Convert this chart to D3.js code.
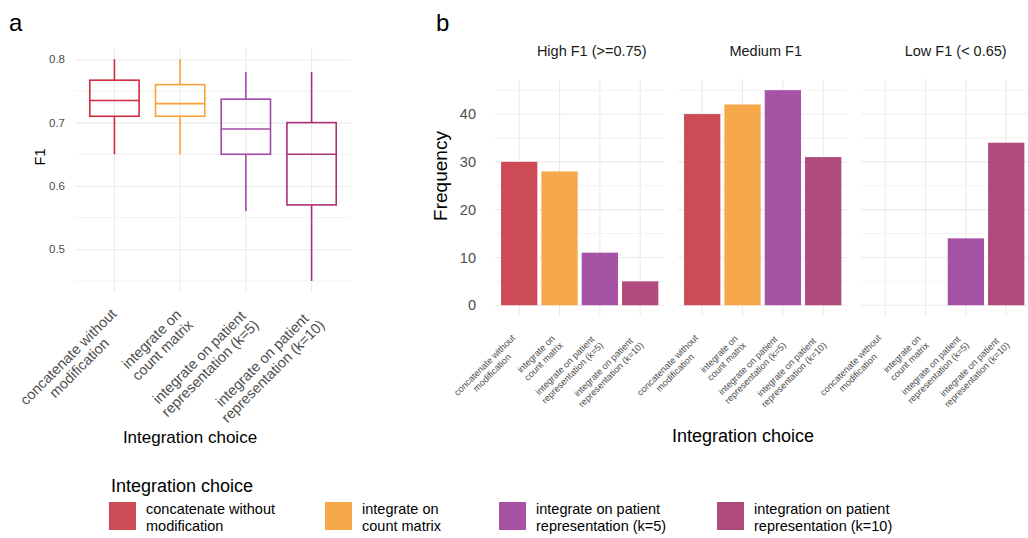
<!DOCTYPE html>
<html>
<head>
<meta charset="utf-8">
<script src="https://cdn.jsdelivr.net/npm/d3@7"></script>
<style>
  body { margin: 0; background: #fff; }
  svg { display: block; font-family: "Liberation Sans", Arial, sans-serif; }
</style>
</head>
<body>
<div class="chart"></div>
<script>
// categories (axis labels use "integrate", legend uses the original wording)
var categories = [
  "concatenate without\nmodification",
  "integrate on\ncount matrix",
  "integrate on patient\nrepresentation (k=5)",
  "integrate on patient\nrepresentation (k=10)"
];
var legendLabels = [
  "concatenate without\nmodification",
  "integrate on\ncount matrix",
  "integrate on patient\nrepresentation (k=5)",
  "integration on patient\nrepresentation (k=10)"
];

// panel a: boxplot stats of F1
var whiskerLow = [0.65, 0.65, 0.56, 0.45];
var q1 = [0.71, 0.71, 0.65, 0.57];
var medians = [0.735, 0.73, 0.69, 0.65];
var q3 = [0.767, 0.76, 0.737, 0.70];
var whiskerHigh = [0.80, 0.80, 0.78, 0.78];
var f1Ticks = [0.5, 0.6, 0.7, 0.8];
var f1Minor = [0.45, 0.55, 0.65, 0.75];

// panel b: counts per F1 group
var facets = ["High F1 (>=0.75)", "Medium F1", "Low F1 (< 0.65)"];
var highCounts = [30, 28, 11, 5];
var mediumCounts = [40, 42, 45, 31];
var lowCounts = [0, 0, 14, 34];
var freqTicks = [0, 10, 20, 30, 40];
var freqMinor = [5, 15, 25, 35, 45];

var boxColors = ["#D22B3D", "#FFA034", "#A24AAB", "#A8317A"];
var barColors = ["#CD4B57", "#F7A84B", "#A653A5", "#B04B7D"];

var svg = d3.select(".chart").append("svg")
  .attr("width", 1028)
  .attr("height", 538);

var grid = "#EBEBEB";
var tickCol = "#4D4D4D";

// rotated two-line tick labels, lines centred within the block
function rotatedLabel(g, x, y, label, fs, lh, shiftU, baseV) {
  var lines = label.split("\n");
  var lg = g.append("g").attr("transform", `translate(${x},${y}) rotate(-45)`);
  var texts = lines.map(function(l, i) {
    return lg.append("text")
      .attr("y", baseV + i * lh)
      .attr("text-anchor", "middle")
      .style("font-size", fs + "px")
      .attr("fill", tickCol)
      .text(l);
  });
  var w = d3.max(texts, t => t.node().getComputedTextLength());
  texts.forEach(t => t.attr("x", shiftU - w / 2));
}

// ---------------- panel a ----------------
var a = { left: 75, right: 351, top: 48.2, bottom: 292 };

var xA = d3.scaleLinear().domain([-0.6, 3.6]).range([a.left, a.right]);
var yA = d3.scaleLinear().domain([0.4325, 0.8175]).range([a.bottom, a.top]);

var gA = svg.append("g");

gA.selectAll(".minorA").data(f1Minor).enter().append("line")
  .attr("x1", a.left).attr("x2", a.right)
  .attr("y1", d => yA(d)).attr("y2", d => yA(d))
  .attr("stroke", grid).attr("stroke-width", 0.6);

gA.append("g")
  .attr("transform", `translate(${a.left},0)`)
  .call(d3.axisLeft(yA).tickValues(f1Ticks).tickSize(-(a.right - a.left)).tickFormat(d3.format(".1f")))
  .call(g => g.select(".domain").remove())
  .call(g => g.selectAll(".tick line").attr("stroke", grid).attr("stroke-width", 1.1))
  .call(g => g.selectAll(".tick text").attr("x", -10).attr("fill", tickCol)
    .style("font-size", "11.5px").style("font-family", "Liberation Sans, Arial, sans-serif"));

gA.selectAll(".vgridA").data(categories).enter().append("line")
  .attr("x1", (d, i) => xA(i)).attr("x2", (d, i) => xA(i))
  .attr("y1", a.top).attr("y2", a.bottom)
  .attr("stroke", grid).attr("stroke-width", 1.1);

var boxW = xA(0.375) - xA(0);
categories.forEach(function(c, i) {
  var cx = xA(i);
  var col = boxColors[i];
  gA.append("line").attr("x1", cx).attr("x2", cx)
    .attr("y1", yA(whiskerHigh[i])).attr("y2", yA(q3[i]))
    .attr("stroke", col).attr("stroke-width", 1.6);
  gA.append("line").attr("x1", cx).attr("x2", cx)
    .attr("y1", yA(q1[i])).attr("y2", yA(whiskerLow[i]))
    .attr("stroke", col).attr("stroke-width", 1.6);
  gA.append("rect")
    .attr("x", cx - boxW).attr("width", boxW * 2)
    .attr("y", yA(q3[i])).attr("height", yA(q1[i]) - yA(q3[i]))
    .attr("fill", "none").attr("stroke", col).attr("stroke-width", 1.6);
  gA.append("line").attr("x1", cx - boxW).attr("x2", cx + boxW)
    .attr("y1", yA(medians[i])).attr("y2", yA(medians[i]))
    .attr("stroke", col).attr("stroke-width", 1.6);
  rotatedLabel(gA, cx, a.bottom + 3, c, 14.5, 15.5, -12, 16);
});

gA.append("text").attr("transform", "translate(45,157) rotate(-90)")
  .attr("text-anchor", "middle").style("font-size", "14.5px").text("F1");
gA.append("text").attr("x", 190).attr("y", 443)
  .attr("text-anchor", "middle").style("font-size", "17px").text("Integration choice");
svg.append("text").attr("x", 9).attr("y", 31).style("font-size", "24px").text("a");

// ---------------- panel b ----------------
var b = { top: 79.4, bottom: 316, width: 169.4, lefts: [495, 678, 861] };
var stripShift = [12, 3, 10];
var yB = d3.scaleLinear().domain([-2.25, 47.25]).range([b.bottom, b.top]);
var counts = [highCounts, mediumCounts, lowCounts];

var gB = svg.append("g");

gB.append("g")
  .attr("transform", `translate(${b.lefts[0]},0)`)
  .call(d3.axisLeft(yB).tickValues(freqTicks).tickSize(0))
  .call(g => g.select(".domain").remove())
  .call(g => g.selectAll(".tick text").attr("x", -19).attr("fill", tickCol)
    .style("font-size", "14.5px").style("font-family", "Liberation Sans, Arial, sans-serif"));

facets.forEach(function(f, k) {
  var left = b.lefts[k];
  var right = left + b.width;
  var xB = d3.scaleLinear().domain([-0.6, 3.6]).range([left, right]);
  var pg = gB.append("g");

  pg.selectAll(".minorB").data(freqMinor).enter().append("line")
    .attr("x1", left).attr("x2", right)
    .attr("y1", d => yB(d)).attr("y2", d => yB(d))
    .attr("stroke", grid).attr("stroke-width", 0.6);
  pg.selectAll(".majorB").data(freqTicks).enter().append("line")
    .attr("x1", left).attr("x2", right)
    .attr("y1", d => yB(d)).attr("y2", d => yB(d))
    .attr("stroke", grid).attr("stroke-width", 1.1);
  pg.selectAll(".vgridB").data(categories).enter().append("line")
    .attr("x1", (d, i) => xB(i)).attr("x2", (d, i) => xB(i))
    .attr("y1", b.top).attr("y2", b.bottom)
    .attr("stroke", grid).attr("stroke-width", 1.1);

  var bw = xB(0.45) - xB(0);
  pg.selectAll(".bar").data(counts[k]).enter()
    .filter(d => d > 0)
    .append("rect")
    .attr("x", function(d) { return xB(counts[k].indexOf(d)) - bw; })
    .attr("width", bw * 2)
    .attr("y", d => yB(d))
    .attr("height", d => yB(0) - yB(d))
    .attr("fill", function(d) { return barColors[counts[k].indexOf(d)]; });

  pg.append("text").attr("x", (left + right) / 2 + stripShift[k]).attr("y", 56)
    .attr("text-anchor", "middle").attr("fill", "#1A1A1A")
    .style("font-size", "14.5px").text(f);

  categories.forEach(function(c, i) {
    rotatedLabel(pg, xB(i), b.bottom + 2, c, 9.2, 10.5, -17, 12);
  });
});

gB.append("text").attr("transform", "translate(447,176) rotate(-90)")
  .attr("text-anchor", "middle").style("font-size", "19px").text("Frequency");
gB.append("text").attr("x", 743).attr("y", 442)
  .attr("text-anchor", "middle").style("font-size", "18px").text("Integration choice");
svg.append("text").attr("x", 436).attr("y", 31).style("font-size", "24px").text("b");

// ---------------- legend ----------------
var legendX = [109, 325, 499, 717];
var lg = svg.append("g");
lg.append("text").attr("x", 111).attr("y", 492)
  .style("font-size", "18px").text("Integration choice");
legendLabels.forEach(function(l, i) {
  lg.append("rect").attr("x", legendX[i]).attr("y", 502)
    .attr("width", 27).attr("height", 28).attr("fill", barColors[i]);
  l.split("\n").forEach(function(line, j) {
    lg.append("text").attr("x", legendX[i] + 37).attr("y", 514 + j * 17)
      .style("font-size", "14.5px").text(line);
  });
});
</script>
</body>
</html>
